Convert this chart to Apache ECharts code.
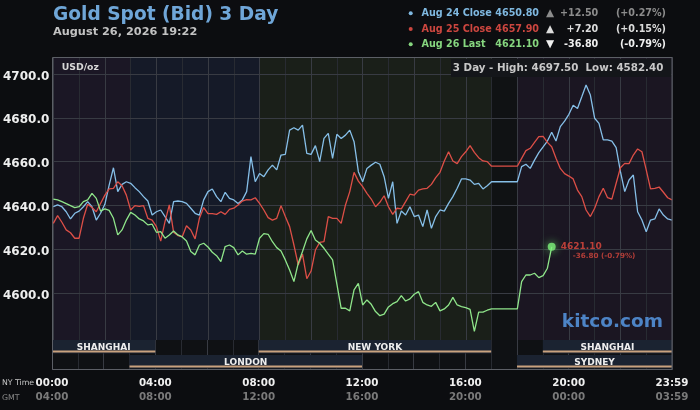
<!DOCTYPE html>
<html><head><meta charset="utf-8">
<script src="https://cdn.jsdelivr.net/npm/echarts@6/dist/echarts.min.js"></script>
<style>html,body{margin:0;padding:0;background:#0c0d10;}#c{width:700px;height:410px;}</style>
</head><body><div id="c"></div>
<script>
// ---- data (NY time, samples every 10 minutes) ----
const SAMPLE_STEP_H = 1 / 6;
const aug24 = [
4639.4,4640.2,4639.4,4637.1,4633.8,4636.4,4637.4,4639.4,4641.7,4639.4,
4633.3,4636.4,4640.5,4649.3,4657.2,4646.3,4649.6,4650.8,4650.1,4648.1,
4646.3,4644.0,4642.0,4635.6,4637.1,4637.9,4634.9,4631.8,4641.7,4642.0,
4641.7,4640.9,4638.7,4636.4,4635.6,4642.5,4646.3,4647.5,4644.0,4641.7,
4646.0,4643.2,4642.5,4640.9,4642.5,4646.3,4662.3,4650.8,4654.6,4653.1,
4656.2,4658.4,4656.2,4663.0,4663.3,4674.4,4675.5,4674.4,4676.7,4663.8,
4663.3,4667.3,4660.0,4670.6,4672.9,4661.5,4672.5,4670.6,4672.1,4674.4,
4669.1,4655.4,4650.8,4656.9,4658.4,4659.7,4658.8,4653.1,4643.2,4650.8,
4631.8,4637.4,4635.6,4639.4,4634.9,4635.6,4630.3,4637.9,4629.5,4634.9,
4637.9,4637.4,4640.9,4644.0,4647.8,4652.1,4652.1,4651.6,4649.6,4650.1,
4647.5,4649.0,4650.8,4650.8,4650.8,4650.8,4650.8,4650.8,4650.8,4657.7,
4658.8,4656.9,4660.7,4664.1,4666.7,4669.4,4673.4,4669.4,4676.0,4678.5,
4681.6,4685.8,4684.3,4689.6,4695.0,4690.4,4679.8,4677.5,4669.9,4669.9,
4669.4,4666.4,4655.4,4646.3,4651.6,4653.9,4637.1,4633.3,4628.0,4633.3,
4633.8,4638.4,4635.6,4633.8,4633.3
];
const aug25 = [
4631.8,4635.3,4632.3,4628.8,4627.5,4625.0,4625.0,4634.1,4640.5,4639.0,
4637.1,4640.9,4644.7,4647.5,4647.8,4650.8,4649.0,4644.7,4637.9,4639.9,
4639.6,4639.9,4634.1,4633.3,4630.3,4623.7,4632.6,4640.2,4627.7,4626.2,
4625.7,4630.7,4628.8,4624.7,4634.1,4639.0,4636.2,4636.2,4635.9,4637.1,
4635.9,4638.2,4638.7,4640.2,4642.0,4642.6,4642.5,4643.5,4640.9,4637.9,
4634.4,4633.3,4634.1,4639.9,4634.9,4630.3,4621.9,4612.8,4617.7,4606.5,
4610.0,4619.6,4623.1,4623.4,4634.9,4634.1,4634.1,4631.8,4640.2,4646.3,
4655.1,4651.1,4648.6,4645.5,4642.9,4639.4,4641.4,4644.4,4639.4,4635.9,
4638.7,4638.4,4641.7,4645.1,4644.7,4647.0,4647.5,4647.8,4649.6,4652.7,
4655.1,4660.3,4664.5,4660.3,4659.1,4662.3,4664.5,4667.3,4664.2,4661.8,
4660.3,4660.0,4657.9,4657.9,4657.9,4657.9,4657.9,4657.9,4657.9,4661.5,
4665.0,4666.1,4668.8,4671.4,4671.5,4668.8,4666.8,4661.5,4656.9,4654.5,
4653.4,4652.1,4647.0,4644.0,4637.9,4634.9,4638.7,4644.0,4647.8,4643.5,
4642.9,4650.1,4657.2,4659.2,4659.1,4663.0,4665.8,4664.5,4656.2,4647.5,
4647.8,4648.4,4646.0,4643.5,4642.5
];
const aug26 = [
4642.9,4642.5,4641.7,4640.8,4639.9,4639.0,4639.4,4641.7,4642.5,4645.5,
4643.2,4637.4,4638.4,4637.7,4634.1,4626.5,4628.8,4633.3,4636.8,4635.6,
4633.8,4632.9,4631.1,4631.4,4627.7,4628.0,4625.0,4626.5,4628.3,4626.5,
4625.6,4623.7,4618.9,4617.4,4621.9,4622.7,4621.0,4618.6,4617.0,4614.3,
4621.2,4621.9,4620.7,4617.4,4619.2,4617.7,4618.1,4617.7,4625.0,4627.1,
4626.8,4623.4,4620.7,4619.2,4615.1,4610.5,4605.2,4613.5,4618.9,4624.7,
4628.5,4624.2,4622.7,4620.4,4617.7,4615.1,4604.0,4593.0,4593.0,4591.8,
4601.4,4604.4,4594.5,4596.8,4594.8,4591.5,4589.6,4590.3,4593.6,4595.1,
4596.0,4598.8,4596.3,4597.3,4599.4,4600.6,4595.7,4594.5,4593.9,4595.7,
4591.8,4592.7,4594.5,4598.0,4594.5,4593.8,4593.3,4592.5,4582.4,4591.2,
4591.2,4592.1,4592.7,4592.7,4592.7,4592.7,4592.7,4592.7,4592.7,4605.2,
4608.2,4608.2,4609.0,4607.0,4607.9,4611.3,4621.1
];
const yTicks = [4600, 4620, 4640, 4660, 4680, 4700];
const xTicks = [0, 4, 8, 12, 16, 20, 24];
const nyLabels = ['00:00', '04:00', '08:00', '12:00', '16:00', '20:00', '23:59'];
const gmtLabels = ['04:00', '08:00', '12:00', '16:00', '20:00', '00:00', '03:59'];
const sessionNames = ['SHANGHAI', 'LONDON', 'NEW YORK', 'SYDNEY', 'SHANGHAI'];
const sessionStart = [0, 3, 8, 18, 19];
const sessionEnd = [4, 12, 17, 24, 24];
const sessionRow = [1, 0, 1, 0, 1];
const zoneStarts = [0, 3, 8, 17, 18];
const legendNames = ['Aug 24 Close', 'Aug 25 Close', 'Aug 26 Last'];
const legendValues = ['4650.80', '4657.90', '4621.10'];
const legendChanges = ['+12.50', '+7.20', '-36.80'];
const legendPcts = ['(+0.27%)', '(+0.15%)', '(-0.79%)'];
const legendDirs = ['▲', '▲', '▼'];
const titleText = 'Gold Spot (Bid) 3 Day';
const dateText = 'August 26, 2026 19:22';
const highText = '4697.50';
const lowText = '4582.40';

// ---- styles ----
const FONT = 'DejaVu Sans';
const zoneColors = ['#1b1725', '#151a28', '#1a1f19', '#101214', '#1b1622'];
const lineColors = ['#86bfe8', '#dd4f47', '#8fe58a'];
const legendColors = ['#7fb8e0', '#cc463f', '#86d67f'];
const deltaColors = ['#8c8c8c', '#dcdcdc', '#f0f0f0'];

const hourColors = [];
for (let h = 0; h < 24; h++) {
  let idx = 0;
  zoneStarts.forEach((s, i) => { if (h >= s) idx = i; });
  hourColors.push(zoneColors[idx]);
}
const toPts = arr => arr.map((v, i) => [i * SAMPLE_STEP_H, v]);
const lastIdx = aug26.length - 1;

const graphics = [];
graphics.push({type: 'text', x: 53, y: 15.3, z: 60, style: {text: titleText, fill: '#6fa6d8', font: 'bold 18.6px ' + FONT, align: 'left', verticalAlign: 'middle'}});
graphics.push({type: 'text', x: 53, y: 31.8, z: 60, style: {text: dateText, fill: '#c2c2c2', font: 'bold 11.3px ' + FONT, align: 'left', verticalAlign: 'middle'}});
const rowY = [13.8, 29.5, 44.8];
legendNames.forEach((n, i) => {
  const y = rowY[i];
  graphics.push({type: 'circle', shape: {cx: 410.7, cy: y - 0.5, r: 2}, style: {fill: legendColors[i]}, z: 60});
  graphics.push({type: 'text', x: 421.5, y: y, z: 60, style: {text: n, fill: legendColors[i], font: 'bold 9.6px ' + FONT, align: 'left', verticalAlign: 'middle'}});
  graphics.push({type: 'text', x: 539, y: y, z: 60, style: {text: legendValues[i], fill: legendColors[i], font: 'bold 9.6px ' + FONT, align: 'right', verticalAlign: 'middle'}});
  graphics.push({type: 'text', x: 550, y: y - 0.5, z: 60, style: {text: legendDirs[i], fill: deltaColors[i], font: 'bold 10.5px ' + FONT, align: 'center', verticalAlign: 'middle'}});
  graphics.push({type: 'text', x: 598.3, y: y, z: 60, style: {text: legendChanges[i], fill: deltaColors[i], font: 'bold 9.6px ' + FONT, align: 'right', verticalAlign: 'middle'}});
  graphics.push({type: 'text', x: 666, y: y, z: 60, style: {text: legendPcts[i], fill: deltaColors[i], font: 'bold 9.6px ' + FONT, align: 'right', verticalAlign: 'middle'}});
});
graphics.push({type: 'rect', shape: {x: 451, y: 59, width: 220.5, height: 18}, style: {fill: '#14161a'}, z: 55});
graphics.push({type: 'text', x: 663.3, y: 68.1, z: 60, style: {text: '3 Day - High: ' + highText + '  Low: ' + lowText, fill: '#c8c8c8', font: 'bold 10.3px ' + FONT, align: 'right', verticalAlign: 'middle'}});
graphics.push({type: 'text', x: 61.7, y: 67.7, z: 60, style: {text: 'USD/oz', fill: '#d8d8d8', font: 'bold 9.3px ' + FONT, align: 'left', verticalAlign: 'middle'}});
graphics.push({type: 'text', x: 663, y: 322, z: 60, style: {text: 'kitco.com', fill: '#4d84c6', font: 'bold 18.5px ' + FONT, align: 'right', verticalAlign: 'middle'}});
graphics.push({type: 'text', x: 2, y: 382.5, z: 60, style: {text: 'NY Time', fill: '#c8c8c8', font: '7.8px ' + FONT, align: 'left', verticalAlign: 'middle'}});
graphics.push({type: 'text', x: 2, y: 397.5, z: 60, style: {text: 'GMT', fill: '#8a8a8a', font: '7.8px ' + FONT, align: 'left', verticalAlign: 'middle'}});
graphics.push({type: 'rect', shape: {x: 52.5, y: 57.5, width: 619.5, height: 312}, style: {fill: 'none', stroke: '#5c5f66', lineWidth: 1}, z: 58});

const vGridColors = ['#383b43', '#282b32'];

const option = {
  backgroundColor: '#0c0d10',
  animation: false,
  grid: [
    {left: 52, right: 28, top: 57, height: 283, show: false},
    {left: 52, right: 28, top: 340, height: 30, show: false}
  ],
  xAxis: [
    {gridIndex: 0, type: 'value', min: 0, max: 24, interval: 1,
     axisLine: {show: false}, axisTick: {show: false}, axisLabel: {show: false},
     splitLine: {show: true, lineStyle: {color: vGridColors, width: 1}},
     splitArea: {show: true, areaStyle: {color: hourColors}}},
    {gridIndex: 1, type: 'value', min: 0, max: 24, interval: 1,
     axisLine: {show: false}, axisTick: {show: false},
     axisLabel: {show: true, margin: 6, interval: 0,
       formatter: v => { const i = xTicks.indexOf(v); return i < 0 ? '' : '{a|' + nyLabels[i] + '}\n{b|' + gmtLabels[i] + '}'; },
       rich: {
         a: {color: '#f0f0f0', fontFamily: FONT, fontWeight: 'bold', fontSize: 10.3, lineHeight: 14.5, align: 'center'},
         b: {color: '#7a7a7a', fontFamily: FONT, fontWeight: 'bold', fontSize: 10.3, lineHeight: 14.5, align: 'center'}
       }},
     splitLine: {show: true, lineStyle: {color: vGridColors, width: 1}},
     splitArea: {show: true, areaStyle: {color: ['#0f1114']}}}
  ],
  yAxis: [
    {gridIndex: 0, type: 'value', min: 4578.5, max: 4707.8, z: 1,
     axisLine: {show: false}, axisTick: {show: false, customValues: yTicks},
     axisLabel: {customValues: yTicks, formatter: v => Number(v).toFixed(1), color: '#eeeeee',
       fontFamily: FONT, fontWeight: 'bold', fontSize: 12, margin: 4, verticalAlign: 'top', lineHeight: 5},
     splitLine: {show: true, lineStyle: {color: '#383b43', width: 1}}},
    {gridIndex: 1, type: 'value', min: 0, max: 2, show: false, splitLine: {show: false}}
  ],
  graphic: graphics,
  series: [
    {type: 'custom', xAxisIndex: 1, yAxisIndex: 1, z: 3, silent: true,
     data: sessionNames.map((n, i) => [sessionStart[i], sessionEnd[i], sessionRow[i]]),
     renderItem: (params, api) => {
       const s = api.value(0), e = api.value(1), r = api.value(2);
       const p0 = api.coord([s, r + 1]);
       const p1 = api.coord([e, r]);
       const x0 = p0[0], x1 = p1[0], yTop = p0[1], yBot = p1[1];
       return {type: 'group', children: [
         {type: 'rect', shape: {x: x0, y: yTop, width: x1 - x0, height: yBot - yTop - 1.5}, style: {fill: '#1b2331'}},
         {type: 'line', shape: {x1: x0, y1: yBot - 3.5, x2: x1, y2: yBot - 3.5}, style: {stroke: '#c9a27e', lineWidth: 2}},
         {type: 'text', x: (x0 + x1) / 2, y: yBot - 7.6, style: {text: sessionNames[params.dataIndex], fill: '#eeeeee', font: 'bold 9px ' + FONT, align: 'center', verticalAlign: 'middle'}}
       ]};
     }},
    {type: 'line', name: legendNames[0], xAxisIndex: 0, yAxisIndex: 0, data: toPts(aug24), showSymbol: false, z: 4,
     lineStyle: {color: lineColors[0], width: 1.3}, itemStyle: {color: lineColors[0]}},
    {type: 'line', name: legendNames[1], xAxisIndex: 0, yAxisIndex: 0, data: toPts(aug25), showSymbol: false, z: 4,
     lineStyle: {color: lineColors[1], width: 1.3}, itemStyle: {color: lineColors[1]}},
    {type: 'line', name: legendNames[2], xAxisIndex: 0, yAxisIndex: 0, data: toPts(aug26), showSymbol: false, z: 5,
     lineStyle: {color: lineColors[2], width: 1.3}, itemStyle: {color: lineColors[2]}},
    {type: 'scatter', xAxisIndex: 0, yAxisIndex: 0, z: 6, silent: true,
     data: [[lastIdx * SAMPLE_STEP_H, aug26[lastIdx]]], symbolSize: 8,
     itemStyle: {color: '#7df27a', shadowBlur: 8, shadowColor: 'rgba(120,255,120,0.9)'},
     label: {show: true, position: [13, -0.5], align: 'left', verticalAlign: 'top',
       formatter: () => '{a|' + legendValues[2] + '}\n{b|' + legendChanges[2] + ' ' + legendPcts[2] + '}',
       rich: {
         a: {color: '#e24a3f', fontFamily: FONT, fontWeight: 'bold', fontSize: 9, lineHeight: 9},
         b: {color: '#d8473d', fontFamily: FONT, fontWeight: 'bold', fontSize: 7.2, lineHeight: 9, padding: [0, 0, 0, 12]}
       }}}
  ]
};
const chart = echarts.init(document.getElementById('c'));
chart.setOption(option);
</script>
</body></html>
